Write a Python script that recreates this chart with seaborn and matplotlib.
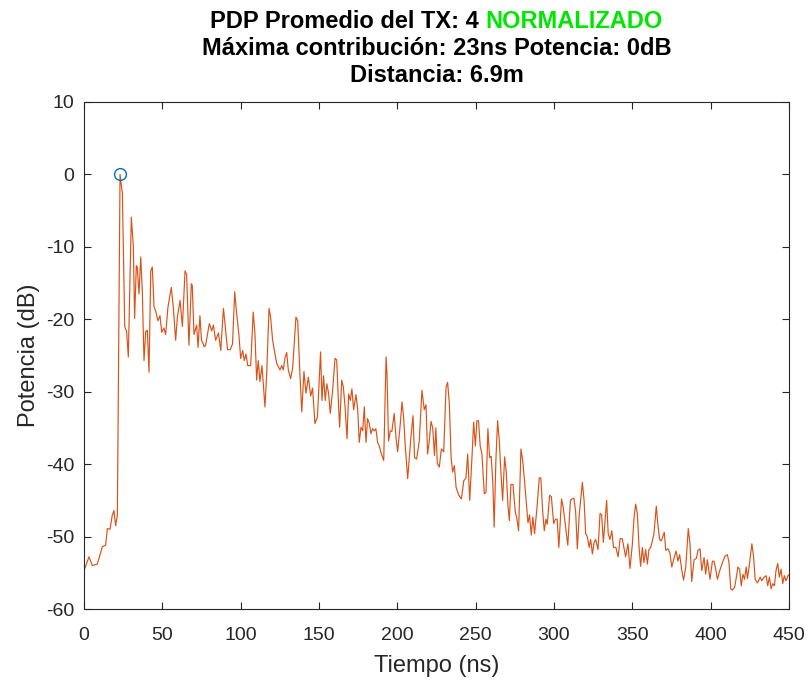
import matplotlib
matplotlib.use("Agg")
import matplotlib.pyplot as plt
import seaborn as sns
import numpy as np

# Averaged power delay profile (normalized to the strongest contribution)
tiempo_ns = [
    0.0, 3.2, 5.3, 8.5, 11.7, 13.8, 14.9, 16.6, 18.0, 19.1, 20.2, 21.3, 23.0, 24.5,
    26.0, 27.2, 28.3, 30.2, 31.5, 32.3, 33.4, 34.0, 35.1, 36.2, 37.2, 38.3, 39.4,
    40.4, 41.5, 42.6, 43.6, 44.7, 45.7, 47.2, 48.5, 49.6, 51.0, 52.1, 53.6, 55.7,
    57.0, 58.5, 59.6, 61.3, 62.8, 64.5, 65.5, 67.0, 68.5, 69.1, 70.2, 71.9, 72.8,
    74.0, 75.0, 75.9, 76.7, 77.6, 80.0, 81.5, 82.6, 84.0, 85.8, 87.3, 89.0, 90.0,
    91.6, 93.3, 94.8, 96.2, 97.4, 98.9, 100.0, 101.3, 102.3, 103.4, 104.5, 106.4,
    108.0, 109.1, 110.2, 111.2, 112.3, 113.6, 115.5, 116.6, 118.1, 119.1, 120.4,
    121.9, 123.0, 125.1, 126.2, 127.2, 128.3, 129.4, 130.4, 131.9, 133.2, 135.3,
    136.4, 137.9, 139.0, 140.4, 141.7, 143.2, 144.7, 145.9, 147.4, 149.0, 151.0,
    151.9, 152.9, 154.0, 155.0, 156.1, 157.2, 158.7, 160.2, 161.3, 162.6, 163.2,
    164.5, 165.5, 166.6, 167.9, 168.9, 170.0, 171.0, 172.1, 173.6, 174.7, 175.7,
    176.8, 177.9, 178.9, 180.0, 181.0, 182.1, 183.2, 184.2, 185.3, 186.3, 187.4,
    188.5, 189.8, 191.3, 192.8, 193.4, 194.4, 195.5, 196.5, 198.0, 199.1, 200.2,
    201.7, 203.0, 204.0, 205.1, 206.6, 207.7, 208.7, 210.0, 211.0, 212.3, 214.0,
    215.7, 217.2, 218.3, 219.3, 220.4, 221.5, 222.6, 223.7, 224.6, 225.5, 226.8,
    228.1, 229.6, 231.1, 232.1, 233.2, 234.3, 235.3, 236.4, 237.5, 239.2, 240.9,
    242.4, 243.8, 244.9, 246.2, 247.7, 248.7, 249.8, 250.8, 251.8, 252.9, 254.0,
    255.5, 256.6, 257.8, 258.9, 259.9, 261.0, 261.8, 262.9, 264.0, 265.1, 266.1,
    267.2, 268.5, 269.5, 270.6, 271.5, 272.5, 273.8, 275.3, 276.3, 277.4, 278.9,
    280.0, 281.2, 282.3, 283.4, 284.4, 285.5, 286.5, 287.6, 289.1, 290.6, 291.6,
    292.8, 293.8, 294.9, 295.7, 296.6, 297.2, 298.3, 299.8, 300.9, 302.0, 303.1,
    304.8, 305.9, 307.4, 308.8, 310.5, 311.6, 312.7, 313.8, 314.9, 316.1, 318.1,
    319.2, 320.2, 321.3, 322.4, 323.4, 324.5, 325.6, 326.6, 328.1, 329.4, 330.4,
    331.5, 332.5, 333.6, 334.6, 335.7, 336.9, 338.0, 339.5, 340.9, 342.2, 343.6,
    344.6, 345.7, 347.2, 348.5, 350.0, 351.0, 352.1, 353.2, 354.3, 355.3, 356.4,
    357.4, 358.5, 359.6, 360.6, 361.7, 362.8, 363.8, 365.3, 366.3, 367.4, 368.5,
    369.5, 370.4, 371.3, 372.8, 374.0, 375.2, 376.7, 378.0, 379.1, 380.2, 381.6,
    382.7, 384.1, 385.7, 386.8, 387.9, 389.4, 390.9, 391.9, 393.2, 394.3, 395.8,
    396.8, 397.9, 399.6, 401.1, 402.1, 403.2, 404.3, 405.8, 407.5, 409.2, 410.7,
    411.7, 412.8, 413.8, 415.3, 416.4, 417.4, 418.5, 419.5, 420.6, 421.6, 422.7,
    423.5, 424.8, 426.3, 427.4, 428.4, 429.9, 431.6, 432.6, 434.1, 435.4, 436.4,
    437.5, 438.6, 439.6, 440.7, 441.7, 442.8, 443.8, 444.9, 446.0, 447.0, 448.1,
    449.6, 450.0,
]

potencia_db = [
    -54.7, -52.8, -54.0, -53.8, -51.4, -51.2, -48.9, -49.0, -47.1, -46.4, -48.5, -47.0, 0.0, -2.6,
    -21.0, -21.7, -25.2, -5.9, -10.0, -19.9, -12.6, -12.8, -16.5, -11.4, -16.0, -25.7, -21.7,
    -21.5, -27.3, -13.3, -12.8, -18.3, -18.8, -20.2, -19.5, -21.8, -21.2, -22.1, -18.3, -15.6,
    -18.3, -22.9, -19.7, -17.4, -21.0, -13.3, -13.8, -23.6, -15.1, -15.3, -22.1, -20.8, -23.9,
    -19.5, -22.9, -23.3, -23.8, -23.6, -20.6, -21.6, -20.8, -22.9, -21.9, -24.3, -18.5, -20.6,
    -24.2, -24.2, -23.4, -16.2, -19.1, -22.2, -25.4, -24.3, -25.7, -24.8, -26.4, -26.4,
    -19.0, -21.9, -28.4, -25.7, -28.6, -26.4, -32.1, -27.6, -18.5, -19.7, -22.9,
    -24.8, -26.1, -27.0, -26.4, -27.0, -25.3, -24.6, -27.0, -28.2, -26.7, -19.7,
    -20.2, -28.0, -32.8, -27.2, -30.2, -28.0, -30.6, -29.5, -34.4, -33.5, -24.5,
    -31.2, -27.8, -31.2, -28.9, -30.2, -33.0, -29.8, -25.4, -25.6, -32.5, -34.9,
    -28.4, -29.3, -32.0, -36.5, -30.3, -31.2, -29.6, -32.5, -30.4, -32.5, -37.0,
    -34.9, -35.4, -32.1, -37.0, -33.7, -34.4, -35.8, -35.1, -35.4, -35.1, -37.0,
    -37.5, -38.6, -39.5, -25.2, -27.5, -36.8, -35.4, -35.5, -33.0, -36.2, -38.3,
    -34.9, -31.4, -33.5, -37.6, -42.0, -39.0, -36.2, -33.3, -39.1, -39.3, -36.8,
    -29.8, -32.5, -31.8, -38.6, -36.8, -34.1, -35.0, -38.8, -35.0, -39.9, -40.4,
    -37.9, -38.3, -29.4, -28.7, -31.7, -39.0, -41.1, -40.2, -43.2, -44.3, -44.8,
    -42.3, -41.9, -38.6, -45.0, -38.8, -34.2, -37.5, -34.0, -34.0, -37.5, -38.6,
    -44.1, -43.9, -35.1, -39.1, -38.9, -42.8, -48.7, -39.5, -34.0, -36.8, -41.1,
    -45.0, -39.0, -41.0, -45.7, -47.8, -42.8, -42.8, -46.6, -47.5, -49.2, -37.9,
    -39.5, -42.3, -45.3, -48.1, -47.0, -49.8, -47.3, -49.6, -46.1, -41.9, -41.9,
    -46.6, -49.2, -47.6, -48.3, -46.0, -44.3, -44.5, -48.2, -47.6, -47.6, -51.5,
    -44.8, -46.0, -48.7, -51.2, -45.0, -44.8, -44.7, -46.5, -51.7, -47.0, -42.5,
    -45.0, -49.6, -50.0, -51.5, -50.4, -52.4, -50.8, -50.4, -51.8, -46.8, -47.0,
    -50.8, -48.1, -45.0, -49.6, -50.4, -49.2, -51.5, -51.5, -52.8, -50.3, -50.3,
    -51.5, -52.8, -51.0, -54.4, -51.1, -47.6, -45.5, -46.8, -51.5, -54.1, -51.5,
    -53.6, -51.8, -53.8, -51.8, -51.5, -50.6, -49.6, -45.8, -48.3, -50.4, -50.6,
    -50.0, -49.4, -51.9, -51.7, -52.3, -54.2, -52.9, -52.0, -53.4, -52.5, -54.7,
    -56.0, -54.2, -48.9, -51.0, -56.2, -53.2, -53.0, -51.9, -51.7, -54.7, -52.9,
    -55.2, -53.2, -55.9, -53.4, -53.4, -54.5, -55.9, -54.7, -53.6, -52.7, -52.5,
    -53.6, -57.2, -57.4, -57.0, -55.6, -54.2, -54.5, -56.8, -55.2, -55.9, -54.2,
    -55.8, -53.7, -51.0, -52.8, -55.9, -56.4, -55.6, -56.1, -55.6, -55.4, -56.8,
    -55.6, -57.2, -56.5, -56.8, -54.7, -53.7, -55.6, -54.5, -56.5, -55.4, -56.1,
    -55.3, -55.3,
]

pico_ns = [23.0]
pico_db = [0.0]

x_ticks = [0, 50, 100, 150, 200, 250, 300, 350, 400, 450]
y_ticks = [-60, -50, -40, -30, -20, -10, 0, 10]

titulo_1a = "PDP Promedio del TX: 4 "
titulo_1b = "NORMALIZADO"
titulo_2 = "Máxima contribución: 23ns Potencia: 0dB"
titulo_3 = "Distancia: 6.9m"

sns.set_theme(style="white")
plt.rcParams["font.family"] = ["Liberation Sans", "DejaVu Sans"]
plt.rcParams["axes.unicode_minus"] = False

ink = "#262626"
fig = plt.figure(figsize=(8.09, 6.84), dpi=100)
ax = fig.add_axes([84 / 809, 1 - 609 / 684, (789 - 84) / 809, (609 - 102) / 684])

sns.lineplot(x=tiempo_ns, y=potencia_db, ax=ax, color="#D95319",
             linewidth=0.85, estimator=None, sort=False)
ax.plot(pico_ns, pico_db, "o", markerfacecolor="none", markeredgecolor="#0072BD",
        markersize=8.5, markeredgewidth=1.0)

ax.set_xlim(0, 450)
ax.set_ylim(-60, 10)
ax.set_xticks(x_ticks)
ax.set_yticks(y_ticks)
ax.tick_params(direction="in", length=5, width=0.8, color=ink, labelcolor=ink,
               labelsize=14, top=True, right=True, bottom=True, left=True)
ax.tick_params(axis="y", pad=7)
ax.tick_params(axis="x", pad=13)
for s in ax.spines.values():
    s.set_color(ink)
    s.set_linewidth(0.8)
    s.set_visible(True)

ax.set_xlabel("Tiempo (ns)", fontsize=17, color=ink, labelpad=8)
ax.set_ylabel("Potencia (dB)", fontsize=17, color=ink, labelpad=4)

# Three-line title; first line mixes black and green text
cx = (84 + 789) / 2 / 809
tkw = dict(fontsize=17, fontweight="bold", va="baseline", transform=fig.transFigure)
fig.canvas.draw()
r = fig.canvas.get_renderer()
probe = fig.text(0, 0, titulo_1a + titulo_1b, **tkw)
w_full = probe.get_window_extent(r).width / fig.bbox.width
probe.remove()
y1 = 1 - 28 / 684
fig.text(cx - w_full / 2, y1, titulo_1a, ha="left", color="black", **tkw)
fig.text(cx + w_full / 2, y1, titulo_1b, ha="right", color="#00E600", **tkw)
fig.text(cx, 1 - 55 / 684, titulo_2, ha="center", color="black", **tkw)
fig.text(cx, 1 - 82 / 684, titulo_3, ha="center", color="black", **tkw)

fig.savefig("out.png", dpi=100, facecolor="white")
